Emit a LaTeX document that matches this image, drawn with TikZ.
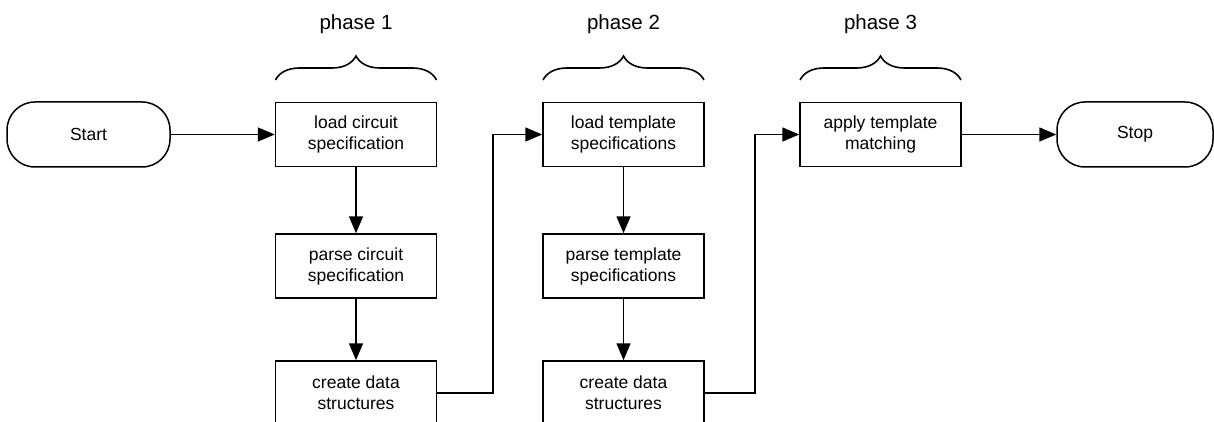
\documentclass[tikz,border=0pt]{standalone}
\usepackage{fontspec}
\setmainfont{Liberation Sans}
\usetikzlibrary{arrows.meta,decorations.pathreplacing}
\begin{document}
\begin{tikzpicture}[x=1pt,y=-1pt,line width=1.5pt,
  proc/.style={draw,rectangle,minimum width=161pt,minimum height=64pt,
    inner sep=0pt,align=center,font=\fontsize{17.5}{21}\selectfont},
  term/.style={draw,rectangle,rounded corners=28pt,minimum height=65pt,
    inner sep=0pt,align=center,font=\fontsize{17.5}{21}\selectfont},
  flow/.style={-{Triangle[length=17pt,width=14pt]}},
  phasebrace/.style={decorate,decoration={brace,amplitude=24pt},line width=1.6pt},
  phaselabel/.style={font=\fontsize{20.5}{24}\selectfont}]
  \useasboundingbox (0,0) rectangle (1214,422);
  \clip (0,0) rectangle (1214,422);

  % terminals
  \node[term,minimum width=163pt] (start) at (88.5,134.5) {Start};
  \node[term,minimum width=156pt] (stop) at (1135,134.5) {Stop};

  % phase 1: circuit
  \node[proc] (lc) at (356,134.5) {load circuit\\specification};
  \node[proc] (pc) at (356,266) {parse circuit\\specification};
  \node[proc] (dc) at (356,393) {create data\\structures};

  % phase 2: templates
  \node[proc] (lt) at (623.5,134.5) {load template\\specifications};
  \node[proc] (pt) at (623.5,266) {parse template\\specifications};
  \node[proc] (dt) at (623.5,393) {create data\\structures};

  % phase 3: matching
  \node[proc] (am) at (880.5,134.5) {apply template\\matching};

  % phase braces and labels
  \coordinate (p1l) at (275.5,80);  \coordinate (p1r) at (436.5,80);
  \coordinate (p2l) at (543,80);    \coordinate (p2r) at (704,80);
  \coordinate (p3l) at (800,80);    \coordinate (p3r) at (961,80);
  \draw[phasebrace] (p1l) -- (p1r);
  \draw[phasebrace] (p2l) -- (p2r);
  \draw[phasebrace] (p3l) -- (p3r);
  \node[phaselabel] (ph1) at (356,24) {phase 1};
  \node[phaselabel] (ph2) at (623.5,24) {phase 2};
  \node[phaselabel] (ph3) at (880.5,24) {phase 3};

  % connectors
  \draw[flow] (start) -- (lc);
  \draw[flow] (lc) -- (pc);
  \draw[flow] (pc) -- (dc);
  \draw[flow] (dc.east) -- ++(55.5,0) |- (lt.west);
  \draw[flow] (lt) -- (pt);
  \draw[flow] (pt) -- (dt);
  \draw[flow] (dt.east) -- ++(50,0) |- (am.west);
  \draw[flow] (am) -- (stop);
\end{tikzpicture}
\end{document}
